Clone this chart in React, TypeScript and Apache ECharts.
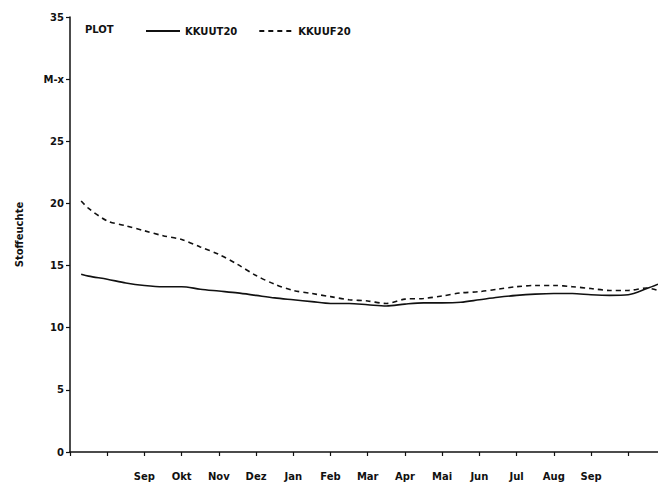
import React, { useEffect, useRef } from "react";
import * as echarts from "echarts";

const monthPos = [0.3, 0.5, 1, 1.5, 2, 2.5, 3, 3.5, 4, 4.5, 5, 5.5, 6, 6.5, 7, 7.5, 8, 8.5, 9, 9.5, 10, 10.5, 11, 11.5, 12, 12.5, 13, 13.5, 14, 14.5, 15, 15.5, 15.8];
const kkuut20 = [14.3, 14.15, 13.9, 13.6, 13.4, 13.3, 13.3, 13.1, 12.95, 12.8, 12.6, 12.4, 12.25, 12.1, 11.95, 11.95, 11.85, 11.75, 11.9, 12.0, 12.0, 12.05, 12.25, 12.45, 12.6, 12.7, 12.75, 12.75, 12.65, 12.6, 12.65, 13.15, 13.5];
const kkuuf20 = [20.2, 19.6, 18.6, 18.2, 17.8, 17.4, 17.1, 16.5, 15.9, 15.1, 14.2, 13.5, 13.0, 12.75, 12.5, 12.25, 12.15, 11.95, 12.3, 12.35, 12.55, 12.8, 12.9, 13.1, 13.3, 13.4, 13.4, 13.3, 13.15, 13.0, 13.0, 13.2, 13.0];
const xTickLabels = ["", "", "Sep", "Okt", "Nov", "Dez", "Jan", "Feb", "Mar", "Apr", "Mai", "Jun", "Jul", "Aug", "Sep", ""];
const yTickLabels: Record<number, string> = { 0: "0", 5: "5", 10: "10", 15: "15", 20: "20", 25: "25", 30: "M-x", 35: "35" };

const FONT = "DejaVu Sans";

export default function App() {
  const ref = useRef<HTMLDivElement>(null);
  useEffect(() => {
    document.body.style.margin = "0";
    const chart = echarts.init(ref.current!, null, { renderer: "svg" });
    const axisText = { color: "#111", fontFamily: FONT, fontWeight: "bold" as const, fontSize: 10 };
    chart.setOption({
      animation: false,
      backgroundColor: "#fff",
      grid: { left: 70, right: 0, top: 17, bottom: 32, containLabel: false },
      legend: {
        left: 140,
        top: 21,
        itemWidth: 34,
        itemHeight: 10,
        itemGap: 21,
        itemStyle: { opacity: 0 },
        textStyle: { ...axisText, fontSize: 10 },
        data: ["KKUUT20", "KKUUF20"],
      },
      graphic: [
        {
          type: "text",
          left: 85,
          top: 24,
          style: { text: "PLOT", fill: "#111", font: `bold 10px "${FONT}"` },
        },
      ],
      xAxis: {
        type: "value",
        min: 0,
        max: 15.8,
        interval: 1,
        splitLine: { show: false },
        axisLine: { lineStyle: { color: "#111", width: 1.5 } },
        axisTick: { show: true, length: 4, lineStyle: { color: "#111", width: 1.2 } },
        axisLabel: {
          ...axisText,
          margin: 19,
          showMaxLabel: false,
          formatter: (v: number) => xTickLabels[Math.round(v)] ?? "",
        },
      },
      yAxis: {
        type: "value",
        min: 0,
        max: 35,
        interval: 5,
        name: "Stoffeuchte",
        nameLocation: "middle",
        nameGap: 46,
        nameTextStyle: { ...axisText, fontSize: 10 },
        splitLine: { show: false },
        axisLine: { show: true, lineStyle: { color: "#111", width: 1.5 } },
        axisTick: { show: true, length: 4, lineStyle: { color: "#111", width: 1.2 } },
        axisLabel: {
          ...axisText,
          margin: 6,
          formatter: (v: number) => yTickLabels[v] ?? "",
        },
      },
      series: [
        {
          name: "KKUUT20",
          type: "line",
          symbol: "none",
          smooth: 0.3,
          data: monthPos.map((x, i) => [x, kkuut20[i]]),
          lineStyle: { color: "#111", width: 1.6, type: "solid" },
          itemStyle: { color: "#111" },
        },
        {
          name: "KKUUF20",
          type: "line",
          symbol: "none",
          smooth: 0.3,
          data: monthPos.map((x, i) => [x, kkuuf20[i]]),
          lineStyle: { color: "#111", width: 1.6, type: [5, 4] },
          itemStyle: { color: "#111" },
        },
      ],
    });
    return () => chart.dispose();
  }, []);
  return <div ref={ref} style={{ width: 658, height: 484 }} />;
}
